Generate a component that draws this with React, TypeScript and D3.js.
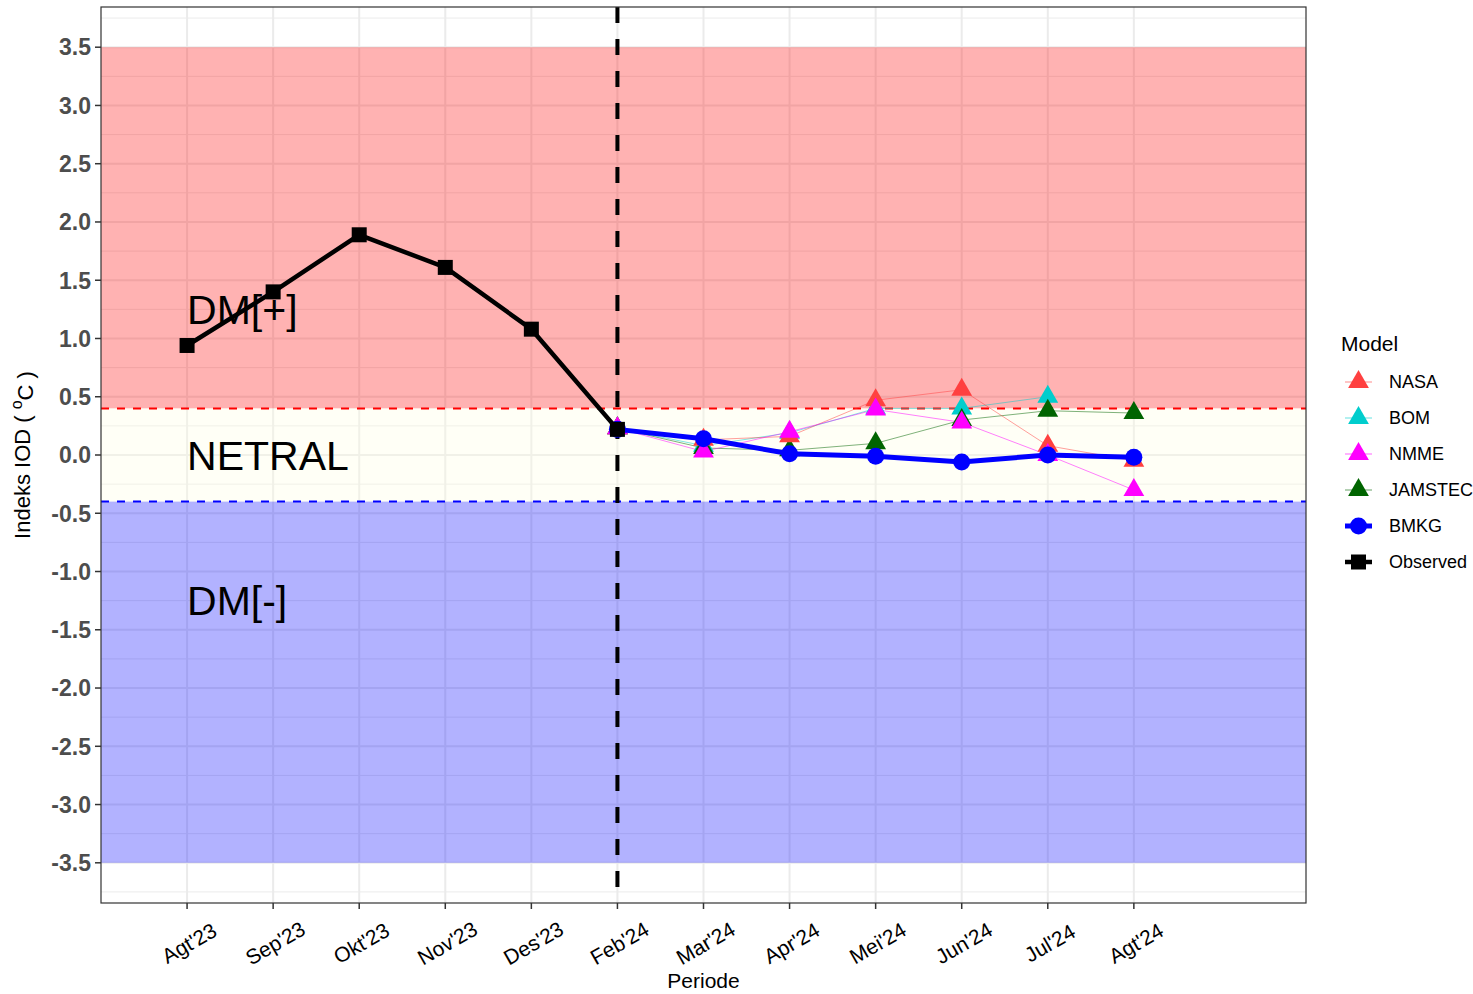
import React, { useEffect } from 'react';
import * as d3 from 'd3';

const categories = ["Agt'23", "Sep'23", "Okt'23", "Nov'23", "Des'23", "Feb'24", "Mar'24", "Apr'24", "Mei'24", "Jun'24", "Jul'24", "Agt'24"];
const observedMonths = ["Agt'23", "Sep'23", "Okt'23", "Nov'23", "Des'23", "Feb'24"];
const observed = [0.94, 1.40, 1.89, 1.61, 1.08, 0.22];
const forecastMonths = ["Feb'24", "Mar'24", "Apr'24", "Mei'24", "Jun'24", "Jul'24", "Agt'24"];
const bmkg = [0.22, 0.14, 0.01, -0.01, -0.06, 0.0, -0.02];
const nasa = [0.23, 0.13, 0.16, 0.47, 0.56, 0.08, -0.05];
const bom: (number | null)[] = [0.23, 0.08, 0.19, 0.40, 0.40, 0.50, null];
const nmme = [0.23, 0.03, 0.20, 0.39, 0.28, 0.00, -0.30];
const jamstec = [0.23, 0.06, 0.04, 0.10, 0.30, 0.38, 0.36];
const yTicks = [-3.5, -3.0, -2.5, -2.0, -1.5, -1.0, -0.5, 0.0, 0.5, 1.0, 1.5, 2.0, 2.5, 3.0, 3.5];
const yMinor = [-3.75, -3.25, -2.75, -2.25, -1.75, -1.25, -0.75, -0.25, 0.25, 0.75, 1.25, 1.75, 2.25, 2.75, 3.25, 3.75];

const models = [
  { name: 'BOM', values: bom, color: '#00CDCD' },
  { name: 'JAMSTEC', values: jamstec, color: '#006400' },
  { name: 'NASA', values: nasa, color: '#FF4040' },
  { name: 'NMME', values: nmme, color: '#FF00FF' },
];
const legendItems = [
  { name: 'NASA', color: '#FF4040', kind: 'tri' },
  { name: 'BOM', color: '#00CDCD', kind: 'tri' },
  { name: 'NMME', color: '#FF00FF', kind: 'tri' },
  { name: 'JAMSTEC', color: '#006400', kind: 'tri' },
  { name: 'BMKG', color: '#0000FF', kind: 'circle' },
  { name: 'Observed', color: '#000000', kind: 'square' },
];

const FONT = '"Liberation Sans", Arial, Helvetica, sans-serif';
const L = 101, R = 1306, T = 7, B = 903;

const x = d3.scaleLinear().domain([0, 14]).range([L, R]);
const y = d3.scaleLinear().domain([-3.845, 3.845]).range([B, T]);
const xc = (c: string) => x(categories.indexOf(c) + 1);

function tri(cx: number, cy: number, r = 12) {
  const h = r * Math.sqrt(3) / 2;
  return `M${cx},${cy - r}L${cx + h},${cy + r / 2}L${cx - h},${cy + r / 2}Z`;
}

export default function App() {
  useEffect(() => { document.body.style.margin = '0'; }, []);
  const line = d3.line<[string, number | null]>()
    .defined(d => d[1] != null)
    .x(d => xc(d[0]))
    .y(d => y(d[1] as number));
  const fx = (vals: (number | null)[]) => forecastMonths.map((m, i) => [m, vals[i]] as [string, number | null]);

  return (
    <svg width={1473} height={994} style={{ position: 'absolute', left: 0, top: 0, background: '#fff' }} fontFamily={FONT}>
      <rect x={0} y={0} width={1473} height={994} fill="#fff" />
      {/* grid */}
      {yMinor.map(v => <line key={'mn' + v} x1={L} x2={R} y1={y(v)} y2={y(v)} stroke="#EBEBEB" strokeWidth={1} />)}
      {yTicks.map(v => <line key={'mj' + v} x1={L} x2={R} y1={y(v)} y2={y(v)} stroke="#EBEBEB" strokeWidth={2} />)}
      {categories.map(c => <line key={'vg' + c} x1={xc(c)} x2={xc(c)} y1={T} y2={B} stroke="#EBEBEB" strokeWidth={2} />)}
      {/* bands */}
      <rect x={L} width={R - L} y={y(3.5)} height={y(0.4) - y(3.5)} fill="rgba(255,0,0,0.3)" />
      <rect x={L} width={R - L} y={y(0.4)} height={y(-0.4) - y(0.4)} fill="rgba(255,255,224,0.3)" />
      <rect x={L} width={R - L} y={y(-0.4)} height={y(-3.5) - y(-0.4)} fill="rgba(0,0,255,0.3)" />
      <line x1={L} x2={R} y1={y(0.4)} y2={y(0.4)} stroke="#FF0000" strokeWidth={2} strokeDasharray="8,8" />
      <line x1={L} x2={R} y1={y(-0.4)} y2={y(-0.4)} stroke="#0000FF" strokeWidth={2} strokeDasharray="8,8" />
      <line x1={xc("Feb'24")} x2={xc("Feb'24")} y1={T} y2={B} stroke="#000" strokeWidth={4} strokeDasharray="16,16" />
      {/* models lines */}
      {models.map(m => <path key={'l' + m.name} d={line(fx(m.values)) || ''} fill="none" stroke={m.color} strokeOpacity={0.5} strokeWidth={1} />)}
      {models.map(m => fx(m.values).filter(d => d[1] != null).map((d, i) =>
        <path key={m.name + i} d={tri(xc(d[0]), y(d[1] as number))} fill={m.color} />))}
      {/* BMKG */}
      <path d={line(fx(bmkg)) || ''} fill="none" stroke="#0000FF" strokeWidth={5} strokeLinejoin="round" />
      {fx(bmkg).map((d, i) => <circle key={'b' + i} cx={xc(d[0])} cy={y(d[1] as number)} r={8.5} fill="#0000FF" />)}
      {/* Observed */}
      <path d={line(observedMonths.map((m, i) => [m, observed[i]] as [string, number])) || ''} fill="none" stroke="#000" strokeWidth={4.5} strokeLinejoin="round" />
      {observedMonths.map((m, i) => <rect key={'o' + i} x={xc(m) - 7.5} y={y(observed[i]) - 7.5} width={15} height={15} fill="#000" />)}
      {/* annotations */}
      <text x={xc("Agt'23")} y={y(1.25)} dy="0.36em" fontSize={41} fill="#000">DM[+]</text>
      <text x={xc("Agt'23")} y={y(0)} dy="0.36em" fontSize={41} fill="#000">NETRAL</text>
      <text x={xc("Agt'23")} y={y(-1.25)} dy="0.36em" fontSize={41} fill="#000">DM[-]</text>
      {/* panel border */}
      <rect x={L} y={T} width={R - L} height={B - T} fill="none" stroke="#333333" strokeWidth={1.2} />
      {/* y axis */}
      {yTicks.map(v => (
        <g key={'yt' + v}>
          <line x1={L - 6} x2={L} y1={y(v)} y2={y(v)} stroke="#333333" strokeWidth={1.5} />
          <text x={L - 10} y={y(v)} dy="0.36em" textAnchor="end" fontSize={23} fontWeight="bold" fill="#4D4D4D">{v.toFixed(1)}</text>
        </g>
      ))}
      {/* x axis */}
      {categories.map(c => (
        <g key={'xt' + c}>
          <line x1={xc(c)} x2={xc(c)} y1={B} y2={B + 6} stroke="#333333" strokeWidth={1.5} />
          <text transform={`translate(${xc(c) + 2},${943}) rotate(-30)`} textAnchor="middle" dy="0.36em" fontSize={21} fill="#000">{c}</text>
        </g>
      ))}
      <text x={(L + R) / 2} y={988} textAnchor="middle" fontSize={21} fill="#000">Periode</text>
      <text transform={`translate(22,${(T + B) / 2}) rotate(-90)`} textAnchor="middle" dy="0.36em" fontSize={22} fill="#000">
        Indeks IOD (  <tspan dy="-0.5em" fontSize={16}>o</tspan><tspan dy="0.5em">C )</tspan>
      </text>
      {/* legend */}
      <text x={1341} y={351} fontSize={21} fill="#000">Model</text>
      {legendItems.map((it, i) => {
        const cy = 382 + i * 36;
        return (
          <g key={'lg' + it.name}>
            {it.kind === 'tri' && <line x1={1345} x2={1372} y1={cy} y2={cy} stroke={it.color} strokeOpacity={0.3} strokeWidth={2} />}
            {it.kind === 'tri' && <path d={tri(1358.5, cy)} fill={it.color} />}
            {it.kind === 'circle' && <line x1={1345} x2={1372} y1={cy} y2={cy} stroke={it.color} strokeWidth={5} />}
            {it.kind === 'circle' && <circle cx={1358.5} cy={cy} r={8.5} fill={it.color} />}
            {it.kind === 'square' && <line x1={1345} x2={1372} y1={cy} y2={cy} stroke={it.color} strokeWidth={4.5} />}
            {it.kind === 'square' && <rect x={1351} y={cy - 7.5} width={15} height={15} fill={it.color} />}
            <text x={1389} y={cy} dy="0.36em" fontSize={18} fill="#000">{it.name}</text>
          </g>
        );
      })}
    </svg>
  );
}
